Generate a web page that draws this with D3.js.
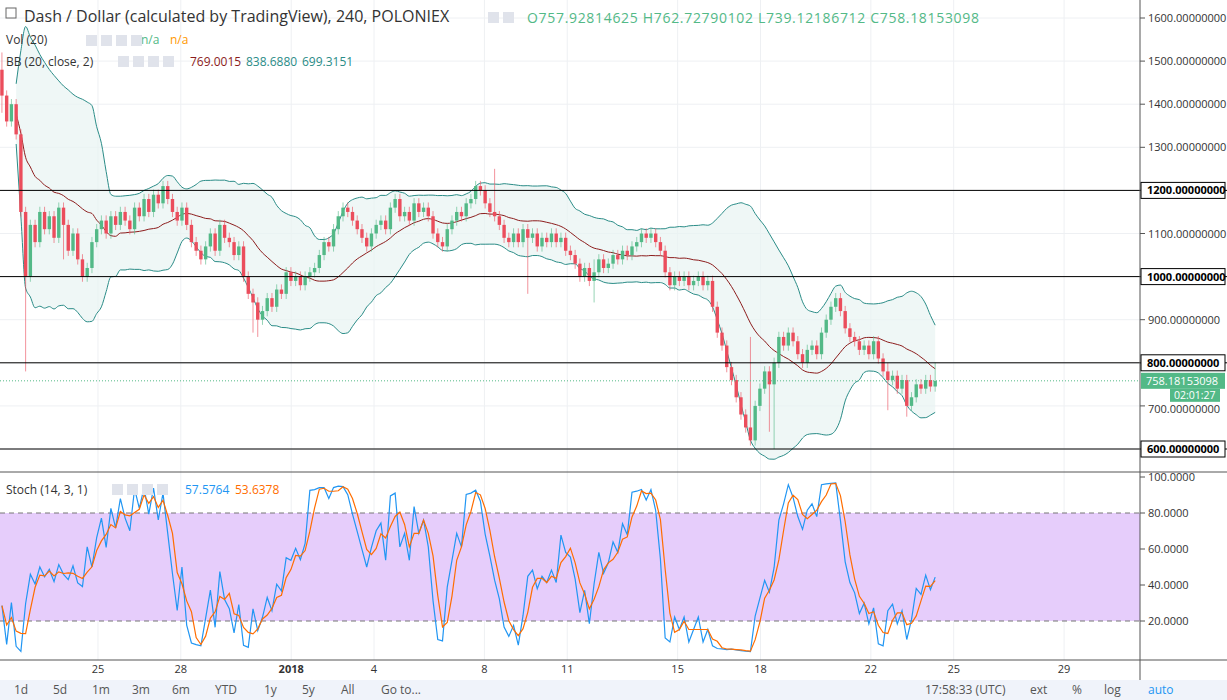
<!DOCTYPE html><html><head><meta charset="utf-8">
<script src="https://cdn.jsdelivr.net/npm/d3@7/dist/d3.min.js"></script>
<style>body{margin:0;background:#fff;font-family:"Open Sans",Arial,sans-serif}</style></head><body>
<svg id="c" width="1227" height="700"></svg>
<script>
const closes=[1420,1360,1400,1330,1150,1000,1120,1080,1150,1110,1140,1090,1160,1120,1060,1100,1040,1000,1020,1080,
1110,1130,1100,1140,1120,1150,1130,1110,1160,1140,1180,1150,1190,1170,1210,1180,1150,1130,1160,1120,1080,1060,1040,
1070,1100,1060,1120,1090,1080,1050,1070,1000,960,940,900,920,950,930,970,960,1010,990,1000,980,1000,1010,1020,
1050,1080,1070,1110,1140,1160,1150,1130,1110,1090,1070,1100,1120,1130,1110,1160,1180,1140,1150,1130,1170,1150,1160,1140,
1100,1080,1070,1110,1130,1150,1140,1170,1180,1210,1200,1170,1150,1140,1120,1090,1080,1100,1080,1110,1090,1100,1070,1090,1080,1100,
1080,1090,1060,1050,1030,1000,1020,990,1010,1040,1020,1030,1050,1040,1060,1050,1070,1080,1100,1090,1100,1080,1060,
1010,980,1000,990,1000,980,990,1000,980,990,930,870,840,790,760,720,680,650,620,700,740,780,750,800,
860,840,870,850,820,800,830,840,820,870,900,930,950,920,880,860,850,830,840,820,850,810,780,760,770,740,760,700,720,
750,740,760,745,758];
const firstOpen=1480;
const bigWicks={0:[1520,1380],5:[1160,780],13:[1170,1040],53:[960,870],54:[930,860],104:[1250,1170],111:[1110,960],125:[1040,940],158:[860,700],162:[700,640],163:[720,600],187:[800,690],191:[760,675],197:[800,740]};
const priceTicks=[1600,1500,1400,1300,1200,1100,1000,900,800,700,600];
const levels=[1200,1000,800,600];
const stochTicks=[100,80,60,40,20];
const dayTicks=[{l:"25",d:25},{l:"28",d:28},{l:"2018",d:32},{l:"4",d:35},{l:"8",d:39},{l:"11",d:42},{l:"15",d:46},{l:"18",d:49},{l:"22",d:53},{l:"25",d:56},{l:"29",d:60}];
const ranges=["1d","5d","1m","3m","6m","YTD","1y","5y","All"];

const svg=d3.select("#c");
const W=1140;
const x=d3.scaleLinear().domain([21.45,62.75]).range([0,W]);
const y=d3.scaleLinear().domain([600,1600]).range([449,18]);
const ys=d3.scaleLinear().domain([0,100]).range([657,477]);
const n=closes.length, t0=21.52, dt=(55.33-21.52)/(n-1);
const data=closes.map((c,i)=>{const o=i?closes[i-1]:firstOpen;let h=Math.max(o,c)+12,l=Math.min(o,c)-12;if(bigWicks[i]){h=Math.max(h,bigWicks[i][0]);l=Math.min(l,bigWicks[i][1]);}return{t:t0+i*dt,o,c,h,l};});
const g=svg.append("g");
dayTicks.forEach(d=>{g.append("line").attr("x1",x(d.d)).attr("x2",x(d.d)).attr("y1",0).attr("y2",660).attr("stroke","#eef0f3");});
priceTicks.forEach(p=>g.append("line").attr("x1",0).attr("x2",W).attr("y1",y(p)).attr("y2",y(p)).attr("stroke","#eef0f3"));
[60,40].forEach(p=>g.append("line").attr("x1",0).attr("x2",W).attr("y1",ys(p)).attr("y2",ys(p)).attr("stroke","#eef0f3"));
const bb=[];for(let i=0;i<n;i++){const s=closes.slice(Math.max(0,i-19),i+1);const m=d3.mean(s),sd=Math.sqrt(d3.mean(s,v=>(v-m)**2));bb.push({t:data[i].t,m,u:m+2*sd,l:m-2*sd});}
const bbd=bb.slice(3);
svg.append("path").datum(bbd).attr("d",d3.area().x(d=>x(d.t)).y0(d=>y(d.l)).y1(d=>y(d.u)).curve(d3.curveMonotoneX)).attr("fill","#e8f4f2").attr("opacity",0.7);
["u","l"].forEach(k=>svg.append("path").datum(bbd).attr("d",d3.line().x(d=>x(d.t)).y(d=>y(d[k])).curve(d3.curveMonotoneX)).attr("fill","none").attr("stroke","#2a8c87").attr("stroke-width",1));
svg.append("path").datum(bbd).attr("d",d3.line().x(d=>x(d.t)).y(d=>y(d.m)).curve(d3.curveMonotoneX)).attr("fill","none").attr("stroke","#8c1c1c").attr("stroke-width",1);
const up="#53b987",dn="#eb4d5c";
const cg=svg.append("g");
data.forEach(d=>{const col=d.c>=d.o?up:dn;const cx=x(d.t);
cg.append("line").attr("x1",cx).attr("x2",cx).attr("y1",y(d.h)).attr("y2",y(d.l)).attr("stroke",col).attr("opacity",0.6);
cg.append("rect").attr("x",cx-1.7).attr("width",3.4).attr("y",y(Math.max(d.o,d.c))).attr("height",Math.max(1,Math.abs(y(d.o)-y(d.c)))).attr("fill",col);});
levels.forEach(p=>svg.append("line").attr("x1",0).attr("x2",1227).attr("y1",y(p)).attr("y2",y(p)).attr("stroke","#000"));
svg.append("line").attr("x1",0).attr("x2",W).attr("y1",y(758.18)).attr("y2",y(758.18)).attr("stroke","#53b987").attr("stroke-dasharray","1,2");
const K=data.map((d,i)=>{const s=data.slice(Math.max(0,i-13),i+1);const hh=d3.max(s,e=>e.h),ll=d3.min(s,e=>e.l);return 100*(d.c-ll)/(hh-ll||1);});
const D=K.map((v,i)=>d3.mean(K.slice(Math.max(0,i-2),i+1)));
svg.append("rect").attr("x",0).attr("width",W).attr("y",ys(80)).attr("height",ys(20)-ys(80)).attr("fill","#e6cdfb");
[80,20].forEach(p=>svg.append("line").attr("x1",0).attr("x2",W).attr("y1",ys(p)).attr("y2",ys(p)).attr("stroke","#777").attr("stroke-dasharray","5,4"));
svg.append("path").datum(K).attr("d",d3.line().x((v,i)=>x(data[i].t)).y(v=>ys(v))).attr("fill","none").attr("stroke","#2196f3").attr("stroke-width",1.2);
svg.append("path").datum(D).attr("d",d3.line().x((v,i)=>x(data[i].t)).y(v=>ys(v))).attr("fill","none").attr("stroke","#ff6d00").attr("stroke-width",1.2);
svg.append("line").attr("x1",0).attr("x2",1227).attr("y1",472).attr("y2",472).attr("stroke","#555");
svg.append("line").attr("x1",W).attr("x2",W).attr("y1",0).attr("y2",680).attr("stroke","#555");
svg.append("line").attr("x1",0).attr("x2",1227).attr("y1",660).attr("y2",660).attr("stroke","#555");
const ax=svg.append("g").attr("font-size",11).attr("fill","#333");
priceTicks.forEach(p=>{ax.append("line").attr("x1",W).attr("x2",W+5).attr("y1",y(p)).attr("y2",y(p)).attr("stroke","#555");
 if(!levels.includes(p))ax.append("text").attr("x",W+8).attr("y",y(p)+(p===700?7:4)).text(p.toFixed(8));});
levels.forEach(p=>{ax.append("rect").attr("x",W+1).attr("y",y(p)-8).attr("width",84).attr("height",16).attr("fill","#fff").attr("stroke","#000");
 ax.append("text").attr("x",W+7).attr("y",y(p)+4).attr("font-weight","bold").attr("fill","#000").text(p.toFixed(8));});
ax.append("rect").attr("x",W+1).attr("y",y(758.18)-8).attr("width",84).attr("height",16).attr("fill","#53b987");
ax.append("text").attr("x",W+6).attr("y",y(758.18)+4).attr("fill","#fff").text("758.18153098");
ax.append("rect").attr("x",1170).attr("y",y(758.18)+8).attr("width",50).attr("height",13).attr("fill","#53b987");
ax.append("text").attr("x",1174).attr("y",y(758.18)+18).attr("font-size",10.5).attr("fill","#fff").text("02:01:27");
stochTicks.forEach(p=>{ax.append("line").attr("x1",W).attr("x2",W+5).attr("y1",ys(p)).attr("y2",ys(p)).attr("stroke","#555");
 ax.append("text").attr("x",W+8).attr("y",ys(p)+4).text(p.toFixed(4));});
dayTicks.forEach(d=>ax.append("text").attr("x",x(d.d)).attr("y",673).attr("text-anchor","middle").attr("font-weight",d.l==="2018"?"bold":"normal").text(d.l));
const h=svg.append("g").attr("font-size",12);
h.append("rect").attr("x",6).attr("y",8).attr("width",10).attr("height",10).attr("fill","#fff").attr("stroke","#666");
h.append("text").attr("x",24).attr("y",22).attr("font-size",16).attr("fill","#333").text("Dash / Dollar (calculated by TradingView), 240, POLONIEX");
h.append("text").attr("x",527).attr("y",23).attr("font-size",14).attr("fill","#53b987").attr("textLength",452).text("O757.92814625  H762.72790102  L739.12186712  C758.18153098");
h.append("text").attr("x",6).attr("y",44).attr("fill","#333").text("Vol (20)");
h.append("text").attr("x",141).attr("y",44).attr("fill","#53b987").text("n/a");
h.append("text").attr("x",170).attr("y",44).attr("fill","#ff9800").text("n/a");
h.append("text").attr("x",6).attr("y",66).attr("fill","#333").text("BB (20, close, 2)");
h.append("text").attr("x",190).attr("y",66).attr("fill","#8c1c1c").text("769.0015");
h.append("text").attr("x",246).attr("y",66).attr("fill","#2a8c87").text("838.6880");
h.append("text").attr("x",302).attr("y",66).attr("fill","#2a8c87").text("699.3151");
h.append("text").attr("x",6).attr("y",494).attr("fill","#333").text("Stoch (14, 3, 1)");
h.append("text").attr("x",185).attr("y",494).attr("fill","#2196f3").text("57.5764");
h.append("text").attr("x",235).attr("y",494).attr("fill","#ff6d00").text("53.6378");
[[86,35],[118,56],[112,484],[488,12]].forEach(([a,b])=>{for(let k=0;k<(a===488?2:4);k++)h.append("rect").attr("x",a+k*15).attr("y",b).attr("width",11).attr("height",11).attr("fill","#e0e3eb");});
svg.append("rect").attr("x",0).attr("y",680).attr("width",1227).attr("height",20).attr("fill","#f0f3fa");
const tb=svg.append("g").attr("font-size",12).attr("fill","#555");
ranges.forEach((r,i)=>tb.append("text").attr("x",[14,53,92,132,172,215,264,302,341][i]).attr("y",694).text(r));
tb.append("text").attr("x",381).attr("y",694).text("Go to...");
tb.append("text").attr("x",925).attr("y",694).text("17:58:33 (UTC)");
tb.append("text").attr("x",1030).attr("y",694).text("ext");
tb.append("text").attr("x",1072).attr("y",694).text("%");
tb.append("text").attr("x",1104).attr("y",694).text("log");
tb.append("text").attr("x",1148).attr("y",694).attr("fill","#2196f3").text("auto");
</script></body></html>
